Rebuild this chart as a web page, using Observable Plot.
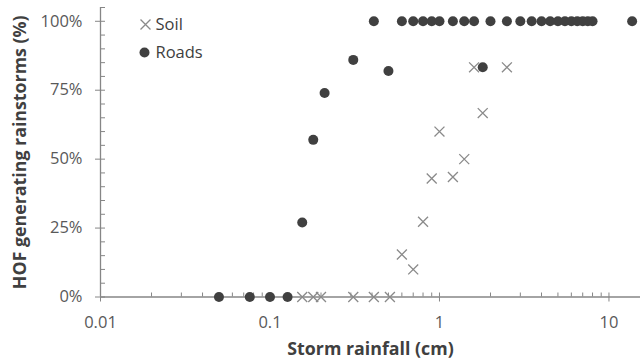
<!DOCTYPE html>
<html><head><meta charset="utf-8">
<script src="https://cdn.jsdelivr.net/npm/d3@7"></script>
<script src="https://cdn.jsdelivr.net/npm/@observablehq/plot@0.6"></script>
<style>html,body{margin:0;padding:0;background:#fff} svg{display:block}</style>
</head><body><div id="chart"></div>
<script>
// Data
const roadsRain = [0.05, 0.076, 0.1, 0.127, 0.155, 0.18, 0.21, 0.31, 0.41, 0.5, 0.6, 0.7, 0.8, 0.9, 1.0, 1.2, 1.4, 1.6, 1.8, 2.0, 2.5, 3.0, 3.5, 4, 4.5, 5, 5.5, 6, 6.5, 7, 7.5, 8, 13.7];
const roadsPct  = [0, 0, 0, 0, 27, 57, 74, 86, 100, 82, 100, 100, 100, 100, 100, 100, 100, 100, 83.3, 100, 100, 100, 100, 100, 100, 100, 100, 100, 100, 100, 100, 100, 100];
const soilRain  = [0.155, 0.18, 0.2, 0.31, 0.41, 0.51, 0.6, 0.7, 0.8, 0.9, 1.0, 1.2, 1.4, 1.6, 1.8, 2.5];
const soilPct   = [0, 0, 0, 0, 0, 0, 15.4, 10, 27.3, 43, 60, 43.5, 50, 83.3, 66.7, 83.3];
const seriesNames = ["Soil", "Roads"];
const xMajorTicks = [0.01, 0.1, 1, 10];
const xMinorTicks = [0.02, 0.03, 0.04, 0.05, 0.06, 0.07, 0.08, 0.09, 0.2, 0.3, 0.4, 0.5, 0.6, 0.7, 0.8, 0.9, 2, 3, 4, 5, 6, 7, 8, 9];
const yMajorTicks = [0, 25, 50, 75, 100];
const yMajorLabels = ["0%", "25%", "50%", "75%", "100%"];
const yMinorTicks = [5, 10, 15, 20, 30, 35, 40, 45, 55, 60, 65, 70, 80, 85, 90, 95, 105];
const xTitle = "Storm rainfall (cm)";
const yTitle = "HOF generating rainstorms (%)";

const roads = roadsRain.map((r, i) => ({rain: r, pct: roadsPct[i]}));
const soil = soilRain.map((r, i) => ({rain: r, pct: soilPct[i]}));
const yLabelRows = yMajorTicks.map((v, i) => ({v, label: yMajorLabels[i]}));

const axisGray = "#868686";
const labelGray = "#595959";
const titleGray = "#404040";
const dotColor = "#404040";
const crossColor = "#8a8a8a";
const font = "'Open Sans', sans-serif";
const xMin = 0.01;

const chart = Plot.plot({
  width: 642,
  height: 363,
  marginLeft: 100,
  marginRight: 2,
  marginTop: 7,
  marginBottom: 66.5,
  style: {fontFamily: font, fontSize: "16px", color: labelGray, background: "#fff"},
  x: {type: "log", domain: [xMin, 15.35], label: null},
  y: {domain: [0, 105], label: null},
  marks: [
    Plot.ruleX([xMin], {stroke: axisGray, strokeWidth: 1.3}),
    Plot.ruleY([0], {stroke: axisGray, strokeWidth: 1.3}),
    Plot.axisY(yMinorTicks, {tickSize: -5, tickFormat: () => "", stroke: axisGray, label: null}),
    Plot.axisY(yMajorTicks, {tickSize: -5, tickFormat: () => "", stroke: axisGray, label: null}),
    Plot.axisY(yMajorTicks, {tickSize: 5, tickFormat: () => "", stroke: axisGray, label: null}),
    Plot.text(yLabelRows, {x: () => xMin, y: "v", text: "label", textAnchor: "end", dx: -18, lineAnchor: "middle", fill: labelGray, fontSize: 16.5, fontFamily: font}),
    Plot.axisX(xMinorTicks, {tickSize: -4, tickFormat: () => "", stroke: axisGray, label: null}),
    Plot.axisX(xMajorTicks, {tickSize: -4, tickFormat: () => "", stroke: axisGray, label: null}),
    Plot.axisX(xMajorTicks, {tickSize: 5, tickPadding: 14, tickFormat: d => String(d), stroke: axisGray, fill: labelGray, fontSize: 16.5, fontFamily: font, label: null}),
    // Series
    Plot.dot(soil, {x: "rain", y: "pct", symbol: "times", r: 4.6, stroke: crossColor, strokeWidth: 1.3}),
    Plot.dot(roads, {x: "rain", y: "pct", r: 5, fill: dotColor, stroke: "none"}),
    // Legend
    Plot.dot([seriesNames[0]], {frameAnchor: "top-left", dx: 45, dy: 17, symbol: "times", r: 4.6, stroke: crossColor, strokeWidth: 1.3}),
    Plot.dot([seriesNames[1]], {frameAnchor: "top-left", dx: 44, dy: 45, r: 5, fill: dotColor, stroke: "none"}),
    Plot.text([seriesNames[0]], {text: d => d, frameAnchor: "top-left", dx: 55, dy: 17, textAnchor: "start", lineAnchor: "middle", fill: titleGray, fontSize: 16.5, fontFamily: font}),
    Plot.text([seriesNames[1]], {text: d => d, frameAnchor: "top-left", dx: 55, dy: 45, textAnchor: "start", lineAnchor: "middle", fill: titleGray, fontSize: 16.5, fontFamily: font}),
    // Axis titles
    Plot.text([xTitle], {text: d => d, frameAnchor: "bottom", dy: 52, textAnchor: "middle", lineAnchor: "middle", fill: titleGray, fontSize: 17.8, fontWeight: "bold", fontFamily: font}),
    Plot.text([yTitle], {text: d => d, frameAnchor: "left", dx: -80, rotate: -90, textAnchor: "middle", lineAnchor: "middle", fill: titleGray, fontSize: 17.8, fontWeight: "bold", fontFamily: font})
  ]
});
document.getElementById("chart").appendChild(chart);
</script>
</body></html>
